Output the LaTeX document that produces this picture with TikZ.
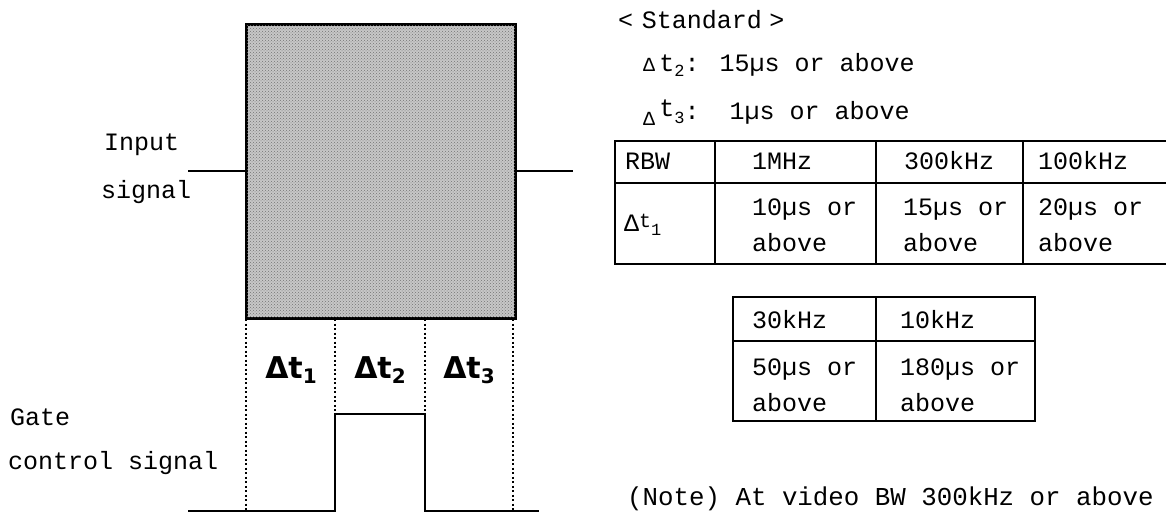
\documentclass[tikz,border=0pt]{standalone}
\usepackage{fontspec}
\setmainfont{Liberation Mono}
\newfontfamily\dsans{DejaVu Sans}
\usetikzlibrary{patterns}
\newcommand{\lsub}[1]{\raisebox{-0.35ex}{\fontsize{17}{17}\selectfont #1}}
\newcommand{\bsub}[1]{\raisebox{-0.3ex}{\fontsize{20}{20}\selectfont #1}}
\begin{document}
\begin{tikzpicture}[x=1pt,y=-1pt,
  txt/.style={font=\fontsize{25}{36}\selectfont, inner sep=0pt, anchor=west, align=left},
  dlabel/.style={font=\dsans\bfseries\fontsize{30}{30}\selectfont, inner sep=0pt},
  wire/.style={line width=1.8pt},
  dotline/.style={line width=1.2pt, dash pattern=on 2pt off 2.5pt},
  outer/.style={line width=1.8pt},
  inner/.style={line width=1.1pt}]
\useasboundingbox (0,0) rectangle (1166,513);
% ---- input signal box
\node[draw, line width=2pt, fill=black!22, minimum width=268pt, minimum height=293pt,
      inner sep=0pt, anchor=north west] (box) at (246,24) {};
\fill[pattern=crosshatch dots, pattern color=black!55] (box.south west) rectangle (box.north east);
\draw[line width=2pt] (box.south west) rectangle (box.north east);
\coordinate (inL) at (188,171);
\coordinate (inR) at (573,171);
\draw[wire] (inL) -- (box.west |- inL);
\draw[wire] (box.east |- inR) -- (inR);
\node[txt] (lin) at (104,145) {Input};
\node[txt] (lsig) at (101,192) {signal};
% ---- dotted time markers
\coordinate (g0) at (246,319); \coordinate (h0) at (246,511);
\coordinate (g1) at (335,319); \coordinate (h1) at (335,511);
\coordinate (g2) at (425,319); \coordinate (h2) at (425,511);
\coordinate (g3) at (513,319); \coordinate (h3) at (513,511);
\draw[dotline] (g0) -- (h0);
\draw[dotline] (g1) -- (h1);
\draw[dotline] (g2) -- (h2);
\draw[dotline] (g3) -- (h3);
\node[dlabel] (dt1) at (291,370) {Δt\bsub{1}};
\node[dlabel] (dt2) at (380,370) {Δt\bsub{2}};
\node[dlabel] (dt3) at (469,370) {Δt\bsub{3}};
% ---- gate control signal
\coordinate (gL) at (188,511);
\coordinate (gR) at (539,511);
\coordinate (hi1) at (335,414);
\coordinate (hi2) at (425,414);
\draw[wire] (gL) -- (h1) -- (hi1) -- (hi2) -- (h2) -- (gR);
\node[txt] (lgate) at (10,417) {Gate};
\node[txt] (lctrl) at (8,463) {control signal};
% ---- standard text
\node[txt] (std) at (618,20) {<\hspace{0.35em}Standard\hspace{0.3em}>};
\node[txt] (s2) at (643,65) {{\fontsize{20}{20}\selectfont Δ}\,t\lsub{2}: 15µs or above};
\node[txt] (s3) at (643,113) {\raisebox{-0.5ex}{\fontsize{20}{20}\selectfont Δ}\,\raisebox{0.2ex}{t}\lsub{3}:\ \ 1µs or above};
% ---- table 1
\draw[outer] (1166,141) -- (615,141) -- (615,264) -- (1166,264);
\draw[inner] (615,183) -- (1166,183);
\draw[inner] (715,141) -- (715,264);
\draw[inner] (876,141) -- (876,264);
\draw[inner] (1023,141) -- (1023,264);
\node[txt] (rbw) at (625,161) {RBW};
\node[txt] (c1) at (752,161) {1MHz};
\node[txt] (c2) at (904,161) {300kHz};
\node[txt] (c3) at (1038,161) {100kHz};
\node[txt] (dt1r) at (624,225) {Δ\raisebox{0.3ex}{\fontsize{20}{20}\selectfont t}\lsub{1}};
\node[txt] (v1) at (752,225) {10µs or\\above};
\node[txt] (v2) at (903,225) {15µs or\\above};
\node[txt] (v3) at (1038,225) {20µs or\\above};
% ---- table 2
\draw[outer] (733,297) rectangle (1035,421);
\draw[inner] (733,341) -- (1035,341);
\draw[inner] (876,297) -- (876,421);
\node[txt] (c4) at (752,320) {30kHz};
\node[txt] (c5) at (900,320) {10kHz};
\node[txt] (v4) at (752,385) {50µs or\\above};
\node[txt] (v5) at (900,385) {180µs or\\above};
% ---- note
\node[txt, font=\fontsize{25.8}{30}\selectfont] (note) at (627,499) {(Note) At video BW 300kHz or above};
\end{tikzpicture}
\end{document}
